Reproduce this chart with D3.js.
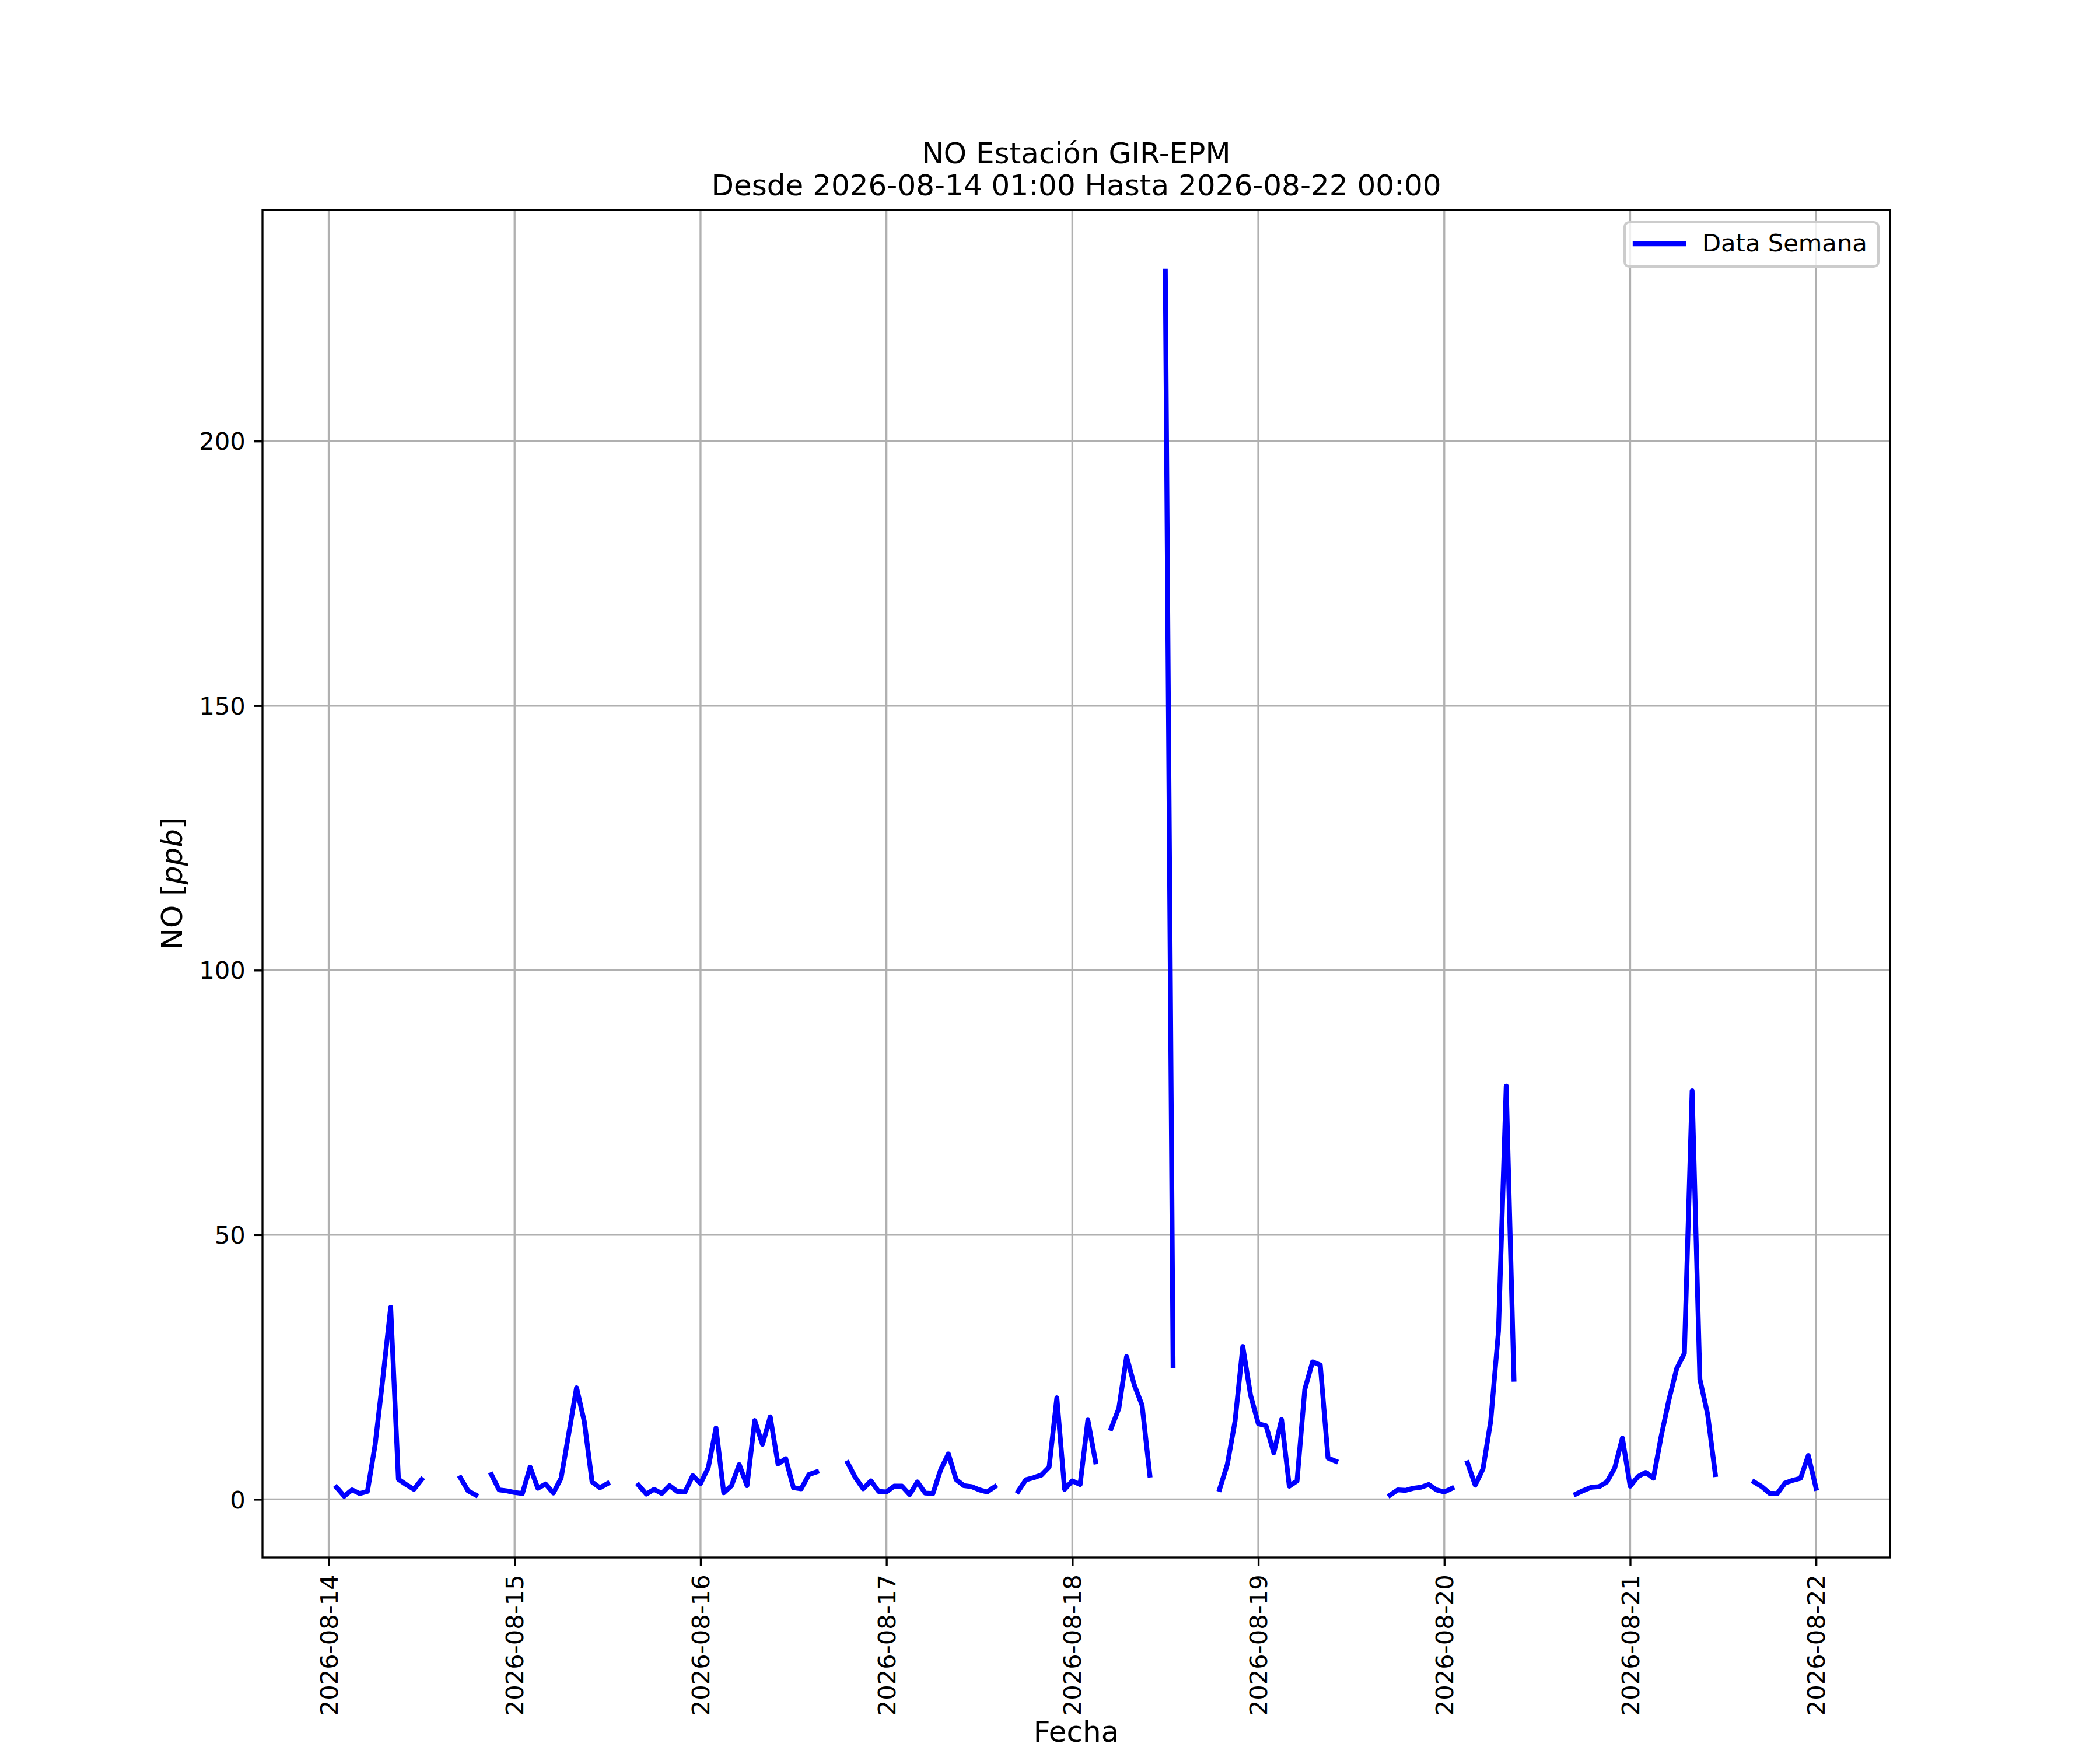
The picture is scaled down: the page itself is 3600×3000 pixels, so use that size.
<!DOCTYPE html>
<html>
<head>
<meta charset="utf-8">
<script src="https://cdn.jsdelivr.net/npm/d3@7"></script>
<style>
  body { margin: 0; background: #fff; }
  text { font-family: "DejaVu Sans", sans-serif; fill: #000; }
</style>
</head>
<body>
<div id="container"></div>
<script>
/* CONSTANTS AND GLOBALS */
const width = 3600,
  height = 3000,
  margin = { top: 360, bottom: 330, left: 450, right: 360 };

const pt = 300 / 72; // figure was 300 dpi

/* DATA */
// hourly NO readings, first one at 2026-08-14 01:00 UTC, null = missing hour
const startTime = Date.UTC(2026, 7, 14, 1);

const noPpb = [
  // 08-14 01:00 .. 08-15 00:00
  2.3, 0.6, 1.8, 1.1, 1.5, 10.4, 23, 36.3, 3.8, 2.8, 1.9, 3.75,
  null, null, null, null, 4.1, 1.6, 0.8, null, 4.7, 1.8, 1.6, 1.3,
  // 08-15
  1.1, 6.1, 2.1, 2.9, 1.2, 4.0, 12.5, 21.1, 14.7, 3.3, 2.2, 3.0,
  null, null, null, 2.7, 1.0, 1.9, 1.1, 2.6, 1.5, 1.4, 4.5, 3.0,
  // 08-16
  6.0, 13.5, 1.25, 2.6, 6.6, 2.6, 14.9, 10.4, 15.6, 6.7, 7.7, 2.2,
  2.0, 4.7, 5.2, null, null, null, 6.9, 4.1, 2.0, 3.5, 1.5, 1.4,
  // 08-17
  2.5, 2.5, 0.9, 3.3, 1.2, 1.1, 5.6, 8.6, 3.75, 2.6, 2.4, 1.8,
  1.4, 2.4, null, null, 1.5, 3.7, 4.1, 4.6, 6.1, 19.2, 1.9, 3.5,
  // 08-18
  2.8, 15.0, 7.1, null, 13.4, 17.2, 27.0, 21.6, 17.8, 4.6, null, 232.1,
  25.3, null, null, null, null, null, 1.9, 6.6, 14.8, 28.9, 19.7, 14.3,
  // 08-19
  13.9, 8.8, 15.1, 2.5, 3.5, 20.8, 26.0, 25.4, 7.8, 7.2, null, null,
  null, null, null, null, 0.8, 1.8, 1.7, 2.1, 2.3, 2.8, 1.8, 1.4,
  // 08-20
  2.1, null, 6.9, 2.7, 5.75, 14.8, 31.8, 78.1, 22.7, null, null, null,
  null, null, null, null, 1.0, 1.7, 2.3, 2.4, 3.3, 5.9, 11.6, 2.5,
  // 08-21
  4.3, 5.1, 4.0, 11.9, 18.8, 24.7, 27.6, 77.2, 22.7, 16.1, 4.7, null,
  null, null, null, 3.3, 2.4, 1.15, 1.1, 3.1, 3.6, 4.0, 8.3, 2.1
];

const xTickDates = ["2026-08-14", "2026-08-15", "2026-08-16", "2026-08-17",
  "2026-08-18", "2026-08-19", "2026-08-20", "2026-08-21", "2026-08-22"];
const yTicks = [0, 50, 100, 150, 200];

const titleLines = ["NO Estación GIR-EPM", "Desde 2026-08-14 01:00 Hasta 2026-08-22 00:00"];
const seriesName = "Data Semana";

const data = noPpb.map((v, i) => ({ date: new Date(startTime + i * 3600e3), value: v }));

/* SCALES */
// matplotlib style: 5% padding around the data on both axes
const tExtent = d3.extent(data, d => d.date);
const tPad = (tExtent[1] - tExtent[0]) * 0.05;
const xScale = d3.scaleUtc()
  .domain([new Date(+tExtent[0] - tPad), new Date(+tExtent[1] + tPad)])
  .range([margin.left, width - margin.right]);

const vExtent = d3.extent(data.filter(d => d.value != null), d => d.value);
const vPad = (vExtent[1] - vExtent[0]) * 0.05;
const yScale = d3.scaleLinear()
  .domain([vExtent[0] - vPad, vExtent[1] + vPad])
  .range([height - margin.bottom, margin.top]);

/* HTML ELEMENTS */
const svg = d3.select("#container")
  .append("svg")
  .attr("width", width)
  .attr("height", height);

const parseDay = d3.utcParse("%Y-%m-%d");
const xTicks = xTickDates.map(parseDay);

// grid
svg.append("g")
  .selectAll("line")
  .data(xTicks)
  .join("line")
  .attr("x1", d => xScale(d)).attr("x2", d => xScale(d))
  .attr("y1", margin.top).attr("y2", height - margin.bottom)
  .attr("stroke", "#b0b0b0")
  .attr("stroke-width", 0.8 * pt);

svg.append("g")
  .selectAll("line")
  .data(yTicks)
  .join("line")
  .attr("x1", margin.left).attr("x2", width - margin.right)
  .attr("y1", d => yScale(d)).attr("y2", d => yScale(d))
  .attr("stroke", "#b0b0b0")
  .attr("stroke-width", 0.8 * pt);

// series
const line = d3.line()
  .defined(d => d.value != null)
  .x(d => xScale(d.date))
  .y(d => yScale(d.value));

svg.append("path")
  .datum(data)
  .attr("d", line)
  .attr("fill", "none")
  .attr("stroke", "#0000ff")
  .attr("stroke-width", 2 * pt)
  .attr("stroke-linejoin", "round")
  .attr("stroke-linecap", "square");

// axes
const xAxis = d3.axisBottom(xScale)
  .tickValues(xTicks)
  .tickFormat(d3.utcFormat("%Y-%m-%d"))
  .tickSize(3.5 * pt)
  .tickPadding(3.5 * pt);

const yAxis = d3.axisLeft(yScale)
  .tickValues(yTicks)
  .tickSize(3.5 * pt)
  .tickPadding(3.5 * pt);

const gx = svg.append("g")
  .attr("transform", `translate(0, ${height - margin.bottom})`)
  .call(xAxis);
gx.select(".domain").remove();
gx.selectAll(".tick line").attr("stroke", "#000").attr("stroke-width", 0.8 * pt);
gx.selectAll(".tick text")
  .attr("font-size", 10 * pt)
  .attr("font-family", "DejaVu Sans")
  .attr("transform", "rotate(-90)")
  .attr("text-anchor", "end")
  .attr("x", -7 * pt)
  .attr("y", 0)
  .attr("dy", "0.35em");

const gy = svg.append("g")
  .attr("transform", `translate(${margin.left}, 0)`)
  .call(yAxis);
gy.select(".domain").remove();
gy.selectAll(".tick line").attr("stroke", "#000").attr("stroke-width", 0.8 * pt);
gy.selectAll(".tick text")
  .attr("font-size", 10 * pt)
  .attr("font-family", "DejaVu Sans")
  .attr("dy", "0.35em");

// spines
svg.append("rect")
  .attr("x", margin.left)
  .attr("y", margin.top)
  .attr("width", width - margin.left - margin.right)
  .attr("height", height - margin.top - margin.bottom)
  .attr("fill", "none")
  .attr("stroke", "#000")
  .attr("stroke-width", 0.8 * pt);

/* TEXT */
const cx = (margin.left + width - margin.right) / 2;

svg.append("g")
  .selectAll("text")
  .data(titleLines)
  .join("text")
  .attr("x", cx)
  .attr("y", (d, i) => 280 + i * 55)
  .attr("text-anchor", "middle")
  .attr("font-size", 12 * pt)
  .text(d => d);

svg.append("text")
  .attr("x", cx)
  .attr("y", 2986)
  .attr("text-anchor", "middle")
  .attr("font-size", 12 * pt)
  .text("Fecha");

const ylab = svg.append("text")
  .attr("transform", `translate(312, ${(margin.top + height - margin.bottom) / 2}) rotate(-90)`)
  .attr("text-anchor", "middle")
  .attr("font-size", 12 * pt);
ylab.append("tspan").text("NO [");
ylab.append("tspan").attr("font-style", "italic").text("ppb");
ylab.append("tspan").text("]");

/* LEGEND */
const legend = svg.append("g");
legend.append("rect")
  .attr("x", 2785).attr("y", 381)
  .attr("width", 435).attr("height", 76)
  .attr("rx", 8).attr("ry", 8)
  .attr("fill", "rgba(255,255,255,0.8)")
  .attr("stroke", "#cccccc")
  .attr("stroke-width", 1 * pt);
legend.append("line")
  .attr("x1", 2803).attr("x2", 2886)
  .attr("y1", 418).attr("y2", 418)
  .attr("stroke", "#0000ff")
  .attr("stroke-width", 2 * pt)
  .attr("stroke-linecap", "square");
legend.append("text")
  .attr("x", 2918)
  .attr("y", 431)
  .attr("font-size", 10 * pt)
  .text(seriesName);
</script>
</body>
</html>
